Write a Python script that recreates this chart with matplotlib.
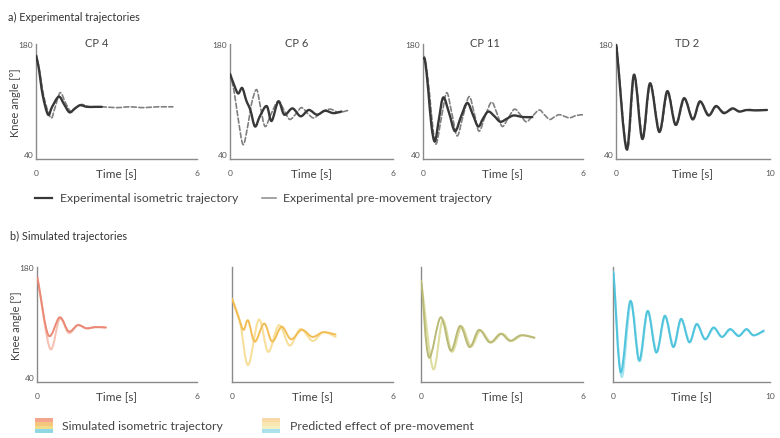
import matplotlib
matplotlib.use("Agg")
import matplotlib.pyplot as plt
from matplotlib.lines import Line2D
from matplotlib.patches import Rectangle, PathPatch
from matplotlib.path import Path

plt.rcParams["font.family"] = ["Lato", "DejaVu Sans"]

# ── Data: knee angle [deg] vs time [s] ─────────────────────────────────
# a) experimental, isometric (solid) and pre-movement (dashed)
cp4_iso_t = [0, 0.1, 0.25, 0.45, 0.6, 0.85, 1.05, 1.25, 1.45, 1.65, 1.9, 2.2, 2.45]
cp4_iso_a = [165, 150, 115, 90, 100, 113, 103, 93, 98, 102, 100, 100, 100]
cp4_pre_t = [0, 0.1, 0.3, 0.55, 0.7, 0.9, 1.1, 1.3, 1.5, 1.7, 2.0, 2.5, 3.0, 3.5, 4.0, 4.5, 5.1]
cp4_pre_a = [168, 152, 112, 86, 98, 118, 105, 94, 99, 103, 100, 100, 99, 100, 99, 100, 100]

cp6_iso_t = [0, 0.15, 0.3, 0.45, 0.6, 0.75, 0.92, 1.1, 1.35, 1.53, 1.78, 2.0, 2.3, 2.6, 2.9, 3.2, 3.5, 3.8, 4.1]
cp6_iso_a = [142, 128, 117, 124, 108, 96, 75, 88, 101, 82, 107, 90, 98, 88, 96, 90, 95, 92, 94]
cp6_pre_t = [0, 0.15, 0.3, 0.48, 0.65, 0.8, 0.98, 1.12, 1.29, 1.5, 1.77, 2.0, 2.2, 2.45, 2.64, 2.9, 3.1, 3.4, 3.7, 4.0, 4.4]
cp6_pre_a = [142, 120, 85, 52, 75, 105, 122, 100, 75, 90, 107, 95, 84, 92, 99, 90, 86, 94, 97, 93, 96]

cp11_iso_t = [0, 0.08, 0.2, 0.32, 0.45, 0.6, 0.76, 0.98, 1.2, 1.43, 1.66, 1.87, 2.07, 2.25, 2.45, 2.68, 2.9, 3.15, 3.4, 3.75, 4.1]
cp11_iso_a = [162, 158, 120, 75, 56, 85, 112, 92, 69, 88, 105, 90, 75, 85, 94, 88, 81, 85, 89, 87, 87]
cp11_pre_t = [0, 0.1, 0.25, 0.38, 0.5, 0.7, 0.89, 1.08, 1.28, 1.5, 1.73, 1.92, 2.1, 2.33, 2.57, 2.77, 2.97,
              3.2, 3.43, 3.65, 3.87, 4.1, 4.36, 4.55, 4.75, 4.92, 5.1, 5.3, 5.5, 5.75, 6.0]
cp11_pre_a = [165, 158, 115, 70, 53, 88, 118, 92, 63, 88, 113, 92, 69, 88, 106, 92, 75,
              86, 97, 90, 81, 88, 96, 90, 84, 87, 90, 88, 86, 89, 90]

td2_iso_t = [0, 0.07, 0.69, 1.17, 1.71, 2.21, 2.81, 3.33, 3.87, 4.42, 4.98, 5.45, 6.0, 6.49, 7.0, 7.56, 8.0, 8.5, 9.0, 9.8]
td2_iso_a = [172, 169, 46, 141, 59, 130, 68, 120, 77, 111, 84, 107, 89, 101, 92, 98, 94, 96, 95.5, 96]
td2_pre_t = [0, 0.1, 0.72, 1.2, 1.74, 2.24, 2.84, 3.36, 3.9, 4.45, 5.0, 5.48, 6.03, 6.52, 7.03, 7.6, 8.05, 8.6, 9.2, 9.8]
td2_pre_a = [170, 166, 45, 139, 60, 129, 69, 118, 77, 110, 85, 106, 90, 100, 93, 97, 94.5, 96.5, 95.5, 96]

# b) simulated isometric (solid) and predicted effect of pre-movement (light)
s_cp4_iso_t = [0, 0.05, 0.43, 0.85, 1.19, 1.53, 1.85, 2.2, 2.58]
s_cp4_iso_a = [165, 160, 93, 116, 98, 106, 102, 103.5, 103]
s_cp4_pre_t = [0, 0.05, 0.49, 0.85, 1.19, 1.53, 1.85, 2.2, 2.58]
s_cp4_pre_a = [165, 160, 76, 114, 96, 106, 102, 103.5, 103]

s_cp6_iso_t = [0, 0.25, 0.43, 0.6, 0.85, 1.2, 1.5, 1.85, 2.2, 2.6, 3.0, 3.4, 3.86]
s_cp6_iso_a = [140, 115, 100, 112, 85, 108, 85, 104, 88, 100, 91, 97, 94]
s_cp6_pre_t = [0, 0.3, 0.6, 1.0, 1.35, 1.75, 2.15, 2.55, 3.0, 3.4, 3.86]
s_cp6_pre_a = [140, 110, 55, 113, 72, 106, 80, 101, 86, 97, 91]

s_cp11_iso_t = [0, 0.03, 0.29, 0.73, 1.1, 1.45, 1.8, 2.15, 2.55, 2.95, 3.3, 3.7, 4.2]
s_cp11_iso_a = [156, 156, 65, 116, 73.5, 105, 78, 100, 84, 95, 86, 93, 90]
s_cp11_pre_t = [0, 0.05, 0.45, 0.8, 1.15, 1.5, 1.85, 2.2, 2.6, 3.0, 3.35, 3.75, 4.2]
s_cp11_pre_a = [156, 150, 50, 112, 72, 104, 79, 99, 84, 95, 86, 93, 90]

s_td2_iso_t = [0, 0.06, 0.49, 1.11, 1.66, 2.2, 2.76, 3.3, 3.84, 4.33, 4.86, 5.33, 5.86, 6.4, 6.93, 7.46, 8.0, 8.5, 8.95, 9.6]
s_td2_iso_a = [166, 165, 46, 137, 61, 124, 71, 118, 78, 114, 84, 107.5, 88, 103, 91, 101, 92, 101, 93, 99]
s_td2_pre_t = [0, 0.08, 0.55, 1.14, 1.7, 2.22, 2.78, 3.32, 3.86, 4.35, 4.88, 5.35, 5.88, 6.42, 6.95, 7.48, 8.02, 8.52, 8.97, 9.6]
s_td2_pre_a = [168, 160, 40, 135, 60, 124, 72, 117, 79, 113, 85, 107, 88, 102, 91, 100, 93, 100, 93, 98]

titles = ["CP 4", "CP 6", "CP 11", "TD 2"]
x_max = [6, 6, 6, 10]
sim_colors = ["#ea8a76", "#f1bd55", "#b9b978", "#4fc4dc"]
pre_colors = ["#f6c2b4", "#f8df9c", "#dedea0", "#a6e3ef"]

W, H = 780, 439


def rect(x0, y0, x1, y1):
    return [x0 / W, 1 - y1 / H, (x1 - x0) / W, (y1 - y0) / H]


def curve(ax, t, a, **kw):
    # smooth (Catmull-Rom style Bezier) curve through the read-off points
    n = len(t)
    verts = [(t[0], a[0])]
    codes = [Path.MOVETO]
    for i in range(n - 1):
        p0 = max(i - 1, 0)
        p3 = min(i + 2, n - 1)
        c1 = (t[i] + (t[i + 1] - t[p0]) / 6, a[i] + (a[i + 1] - a[p0]) / 6)
        c2 = (t[i + 1] - (t[p3] - t[i]) / 6, a[i + 1] - (a[p3] - a[i]) / 6)
        verts += [c1, c2, (t[i + 1], a[i + 1])]
        codes += [Path.CURVE4] * 3
    ax.add_patch(PathPatch(Path(verts, codes), facecolor="none", capstyle="round",
                           joinstyle="round", **kw))


def style(ax, xmax, ylabels=True, ylab=False):
    ax.set_xlim(0, xmax)
    ax.set_ylim(33.6, 180)
    for s in ("top", "right"):
        ax.spines[s].set_visible(False)
    for s in ("left", "bottom"):
        ax.spines[s].set_color("#8a8a8a")
        ax.spines[s].set_linewidth(1.0)
    ax.set_xticks([0, xmax])
    ax.set_xticklabels(["0", str(xmax)])
    ax.set_yticks([40, 180] if ylabels else [])
    ax.tick_params(length=0, labelsize=6, labelcolor="#555555")
    ax.tick_params(axis="x", pad=7)
    ax.tick_params(axis="y", pad=2)
    ax.text(0.5, -0.115, "Time [s]", transform=ax.transAxes, ha="center", va="center",
            fontsize=8.5, color="#444444")
    if ylab:
        ax.text(-0.13, 0.5, "Knee angle [°]", transform=ax.transAxes, rotation=90,
                ha="center", va="center", fontsize=8, color="#444444")


fig = plt.figure(figsize=(W / 100, H / 100), dpi=100)

exp_data = [
    (cp4_iso_t, cp4_iso_a, cp4_pre_t, cp4_pre_a),
    (cp6_iso_t, cp6_iso_a, cp6_pre_t, cp6_pre_a),
    (cp11_iso_t, cp11_iso_a, cp11_pre_t, cp11_pre_a),
    (td2_iso_t, td2_iso_a, td2_pre_t, td2_pre_a),
]
sim_data = [
    (s_cp4_iso_t, s_cp4_iso_a, s_cp4_pre_t, s_cp4_pre_a),
    (s_cp6_iso_t, s_cp6_iso_a, s_cp6_pre_t, s_cp6_pre_a),
    (s_cp11_iso_t, s_cp11_iso_a, s_cp11_pre_t, s_cp11_pre_a),
    (s_td2_iso_t, s_td2_iso_a, s_td2_pre_t, s_td2_pre_a),
]

a_px = [(36, 197), (230, 393), (423, 583), (616, 770)]
b_px = [(37, 197), (232, 393), (421, 583), (613, 770)]
title_x = [0.38, 0.41, 0.39, 0.46]

# ── Row a: experimental ────────────────────────────────────────────────
for i, (x0, x1) in enumerate(a_px):
    ax = fig.add_axes(rect(x0, 45, x1, 160))
    it, ia, pt, pa = exp_data[i]
    curve(ax, pt, pa, edgecolor="#808080", lw=1.2, linestyle=(0, (3, 1.5)), zorder=2)
    curve(ax, it, ia, edgecolor="#383838", lw=1.7, zorder=3)
    style(ax, x_max[i], ylabels=True, ylab=(i == 0))
    ax.text(title_x[i], 1.01, titles[i], transform=ax.transAxes,
            ha="center", va="center", fontsize=8, color="#444444")

# ── Row b: simulated ───────────────────────────────────────────────────
for i, (x0, x1) in enumerate(b_px):
    ax = fig.add_axes(rect(x0, 268, x1, 383))
    it, ia, pt, pa = sim_data[i]
    curve(ax, pt, pa, edgecolor=pre_colors[i], lw=1.5, zorder=2)
    curve(ax, it, ia, edgecolor=sim_colors[i], lw=1.4, zorder=3)
    style(ax, x_max[i], ylabels=(i == 0), ylab=(i == 0))

# ── Section labels ─────────────────────────────────────────────────────
fig.text(8 / W, 1 - 17 / H, "a) Experimental trajectories", fontsize=7.8,
         color="#333333", va="center")
fig.text(10 / W, 1 - 236 / H, "b) Simulated trajectories", fontsize=7.8,
         color="#333333", va="center")

# ── Legends ────────────────────────────────────────────────────────────
ly = 1 - 199 / H
fig.add_artist(Line2D([35 / W, 52 / W], [ly, ly], color="#383838", lw=1.6))
fig.text(60 / W, ly, "Experimental isometric trajectory", fontsize=8.8,
         color="#444444", va="center")
fig.add_artist(Line2D([262 / W, 276 / W], [ly, ly], color="#8a8a8a", lw=1.1))
fig.text(283 / W, ly, "Experimental pre-movement trajectory", fontsize=8.8,
         color="#444444", va="center")

patch_a = ["#f3a58e", "#f5c77c", "#f4dd8a", "#8fd6e6"]
patch_b = ["#f8d9a8", "#f8e7b0", "#f3efc2", "#a9e1ee"]
for x0, cols in ((35, patch_a), (262, patch_b)):
    h = 15 / len(cols)
    for k, c in enumerate(cols):
        y_top = 419 + k * h
        fig.add_artist(Rectangle((x0 / W, 1 - (y_top + h) / H), 18 / W, h / H,
                                 transform=fig.transFigure, facecolor=c, edgecolor="none"))
lby = 1 - 427 / H
fig.text(62 / W, lby, "Simulated isometric trajectory", fontsize=8.8,
         color="#444444", va="center")
fig.text(290 / W, lby, "Predicted effect of pre-movement", fontsize=8.8,
         color="#444444", va="center")

fig.savefig("out.png", dpi=100, facecolor="white")
